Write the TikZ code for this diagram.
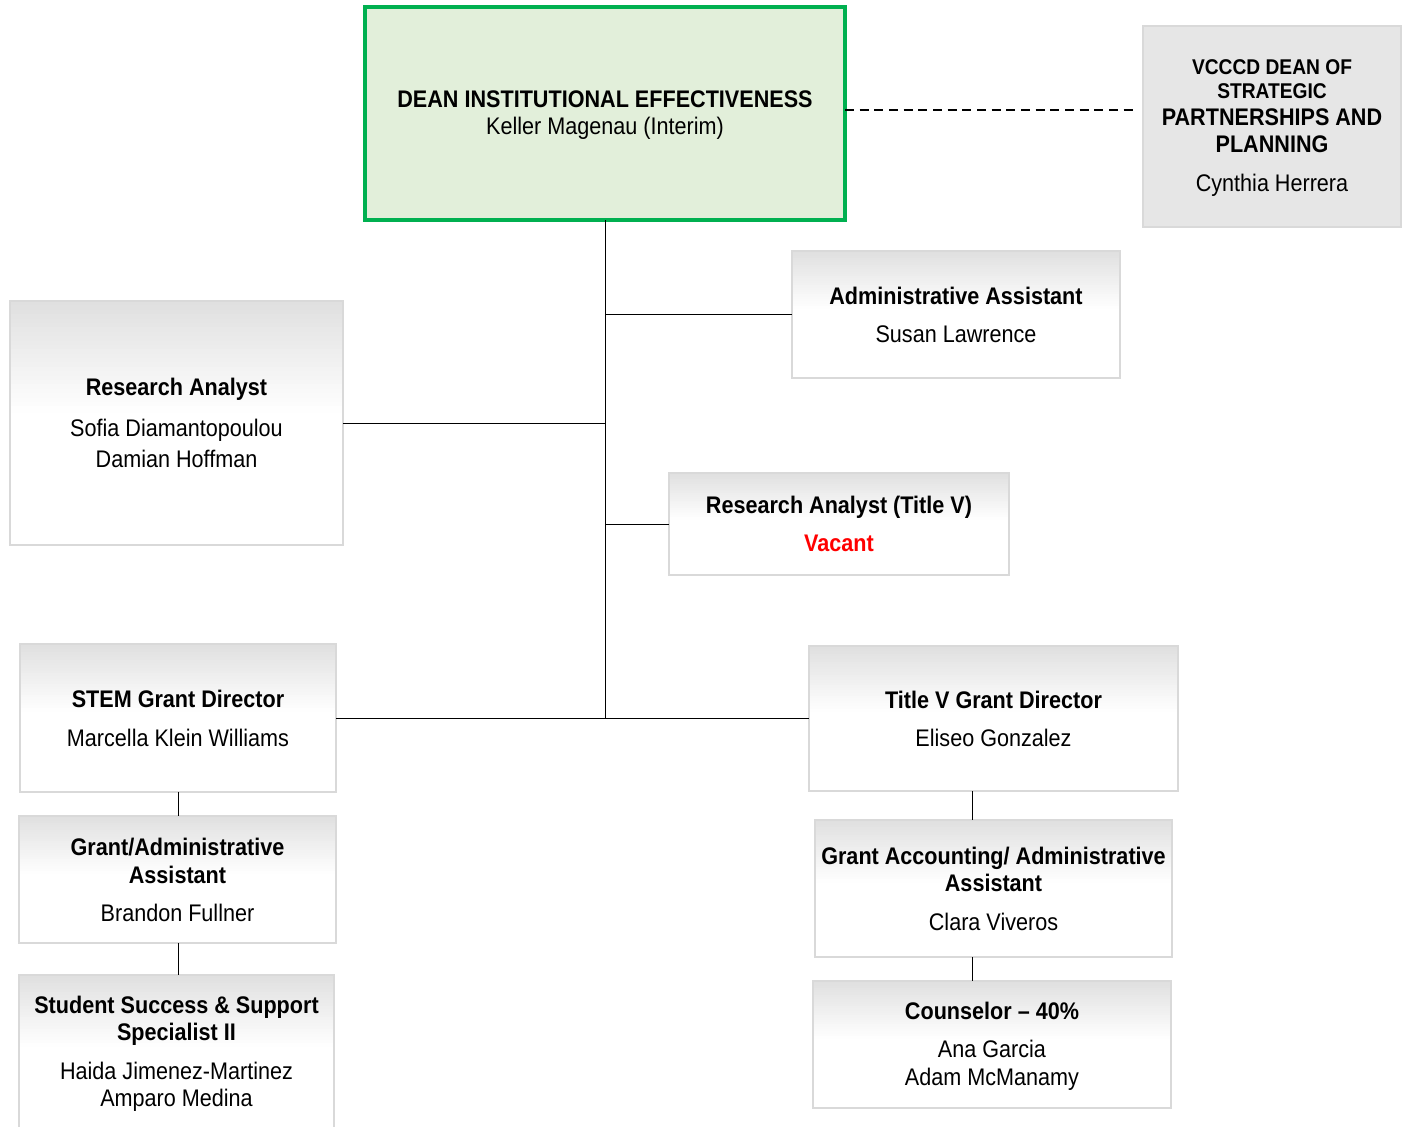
\documentclass[tikz,border=0pt]{standalone}
\usepackage{fontspec}
\setmainfont[FakeStretch=0.9]{Liberation Sans}
\usetikzlibrary{fit,calc}
\definecolor{boxline}{HTML}{D9D9D9}
\definecolor{topgray}{HTML}{E0E0E0}
\definecolor{deanfill}{HTML}{E2EFDA}
\definecolor{deanline}{HTML}{00B050}
\definecolor{vcfill}{HTML}{E6E6E6}
\definecolor{vacred}{HTML}{FF0000}
\begin{document}
\begin{tikzpicture}[x=0.75pt,y=-0.75pt,
  txt/.style={align=center,inner sep=0pt,outer sep=0pt,font=\fontsize{18}{20.25}\selectfont},
  box/.style={inner sep=0pt,outer sep=0pt,draw=boxline,line width=2pt,
    path picture={
      \foreach \i in {0,...,24}{
        \pgfmathsetmacro\pc{100-4*\i}
        \fill[topgray!\pc!white]
          ($(path picture bounding box.north west)!{\i/25*0.45}!(path picture bounding box.south west)$)
          rectangle
          ($(path picture bounding box.north east)!{(\i+1.4)/25*0.45}!(path picture bounding box.south east)$);
      }}},
  deanbox/.style={inner sep=0pt,outer sep=0pt,draw=deanline,fill=deanfill,line width=2.4pt},
  vcbox/.style={inner sep=0pt,outer sep=0pt,draw=boxline,fill=vcfill,line width=2pt},
  link/.style={draw=black,line width=0.7pt},
  dashlink/.style={draw=black,line width=1.3pt,dash pattern=on 6.75pt off 4.25pt}
]
\useasboundingbox[fill=white] (0,0) rectangle (1402,1127);

% boxes
\node[deanbox,fit={(365,7) (845,220)}] (dean) {};
\node[vcbox,fit={(1143,26) (1401,227)}] (vcccd) {};
\node[box,fit={(792,251) (1120,378)}] (admin) {};
\node[box,fit={(10,301) (343,545)}] (ra) {};
\node[box,fit={(669,473) (1009,575)}] (ra5) {};
\node[box,fit={(20,644) (336,792)}] (stem) {};
\node[box,fit={(19,816) (336,943)}] (ga) {};
\node[box,fit={(19,975) (334,1132)}] (ss) {};
\node[box,fit={(809,646) (1178,791)}] (t5) {};
\node[box,fit={(815,820) (1172,957)}] (gacc) {};
\node[box,fit={(813,981) (1171,1108)}] (couns) {};

% texts
\node[txt] (deant) at ([yshift=-1.25pt]dean.center)
  {\textbf{DEAN INSTITUTIONAL EFFECTIVENESS}\\Keller Magenau (Interim)};

\node[txt] (vcccdt) at ([yshift=-1.25pt]vcccd.center)
  {\fontsize{16}{18}\selectfont\bfseries VCCCD DEAN OF\\[-2.25pt]
   \fontsize{16}{18}\selectfont\bfseries STRATEGIC\\
   \fontsize{18}{20.25}\selectfont\bfseries PARTNERSHIPS AND\\
   \fontsize{18}{20.25}\selectfont\bfseries PLANNING\\[9pt]
   \fontsize{18}{20.25}\selectfont\mdseries Cynthia Herrera};

\node[txt] (admint) at (admin.center)
  {\textbf{Administrative Assistant}\\[8.25pt]Susan Lawrence};

\node[txt] (rat) at (ra.center)
  {\textbf{Research Analyst}\\[10.5pt]Sofia Diamantopoulou\\[3pt]Damian Hoffman};

\node[txt] (ra5t) at (ra5.center)
  {\textbf{Research Analyst (Title V)}\\[8.25pt]\textcolor{vacred}{\textbf{Vacant}}};

\node[txt] (stemt) at (stem.center)
  {\textbf{STEM Grant Director}\\[9pt]Marcella Klein Williams};

\node[txt] (gat) at ([yshift=-0.5pt]ga.center)
  {\textbf{Grant/Administrative}\\[0.75pt]\textbf{Assistant}\\[8.25pt]Brandon Fullner};

\node[txt] (sst) at (ss.center)
  {\textbf{Student Success \& Support}\\\textbf{Specialist II}\\[9pt]Haida Jimenez-Martinez\\Amparo Medina};

\node[txt] (t5t) at (t5.center)
  {\textbf{Title V Grant Director}\\[8.25pt]Eliseo Gonzalez};

\node[txt] (gacct) at (gacc.center)
  {\textbf{Grant Accounting/ Administrative}\\\textbf{Assistant}\\[9pt]Clara Viveros};

\node[txt] (counst) at ([yshift=-1pt]couns.center)
  {\textbf{Counselor -- 40\%}\\[8.25pt]Ana Garcia\\[0.75pt]Adam McManamy};

% connectors
\coordinate (j) at (605,718);
\coordinate (dl) at (0,110);
\coordinate (rx) at (972,0);
\coordinate (lx) at (178,0);

\draw[link] (dean.south) -- (j);
\draw[link] (admin.west) -- (admin.west -| dean.south);
\draw[link] (ra.east) -- (ra.east -| dean.south);
\draw[link] (ra5.west) -- (ra5.west -| dean.south);
\draw[link] (stem.east) -- (t5.west |- stem.east);
\draw[link] (stem.south -| lx) -- (ga.north -| lx);
\draw[link] (ga.south -| lx) -- (ss.north -| lx);
\draw[link] (t5.south -| rx) -- (gacc.north -| rx);
\draw[link] (gacc.south -| rx) -- (couns.north -| rx);
\draw[dashlink,shorten >=7.5pt] (dean.east |- dl) -- (vcccd.west |- dl);
\end{tikzpicture}
\end{document}
